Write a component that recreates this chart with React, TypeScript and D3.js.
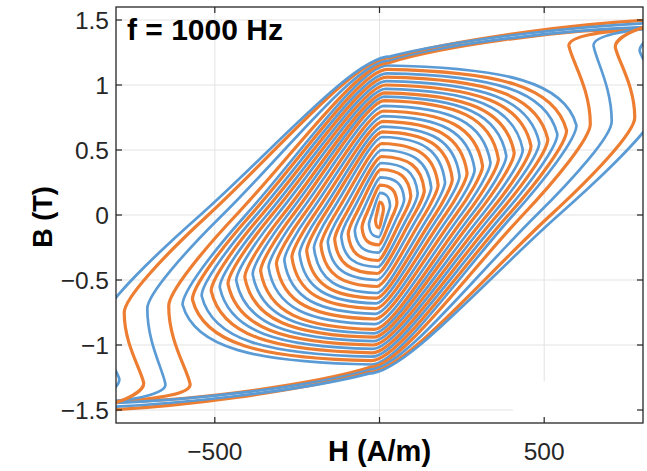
import React from "react";
import * as d3 from "d3";

const W = 647;
const H = 471;

// axes
const hDomain = [-800, 800];
const bDomain = [-1.6, 1.6];
const xTicks = [-500, 0, 500];
const xTickLabels = ["\u2212500", "", "500"];
const yTicks = [-1.5, -1, -0.5, 0, 0.5, 1, 1.5];
const yTickLabels = ["\u22121.5", "\u22121", "\u22120.5", "0", "0.5", "1", "1.5"];

// one entry per loop, innermost to outermost
const loopSeries = [
  "orange", "blue", "orange", "blue", "orange", "blue", "orange", "blue", "orange", "blue",
  "orange", "blue", "orange", "blue", "orange", "blue", "orange", "blue", "orange", "blue",
  "orange", "blue", "orange", "blue", "orange", "blue", "orange", "blue", "orange", "blue",
];
// peak B of each loop near H ~ 0
const cornerB = [
  0.1, 0.17, 0.23, 0.29, 0.35, 0.4, 0.45, 0.5, 0.55, 0.6,
  0.64, 0.68, 0.72, 0.76, 0.8, 0.84, 0.88, 0.91, 0.94, 0.97,
  1.0, 1.03, 1.06, 1.09, 1.12, 1.15, 1.17, 1.19, 1.21, 1.22,
];
// H where the rising branch crosses B = 0
const crossH = [
  9, 24, 41, 57, 73, 89, 104, 120, 136, 152,
  168, 183, 199, 215, 231, 247, 263, 279, 294, 311,
  327, 342, 358, 374, 391, 406, 435, 477, 520, 544,
];
// right "nose" of each loop (largest H) and its B
const noseH = [
  12, 32, 53, 75, 95, 116, 136, 157, 178, 199,
  221, 243, 266, 289, 313, 337, 361, 385, 409, 435,
  460, 485, 511, 540, 568, 598, 640, 705, 775, 850,
];
const noseB = [
  0.042, 0.071, 0.097, 0.122, 0.147, 0.168, 0.189, 0.21, 0.231, 0.252,
  0.275, 0.299, 0.324, 0.35, 0.376, 0.403, 0.431, 0.455, 0.479, 0.504,
  0.53, 0.556, 0.583, 0.621, 0.65, 0.69, 0.7, 0.72, 0.75, 0.85,
];
// saturation hooks of the four outermost loops
const hookLoops = [26, 27, 28, 29];
const hookH = [575, 650, 716, 790];
const hookB = [1.3, 1.3, 1.29, 1.26];
const tipH = [840, 900, 960, 1000];
const tipB = [1.44, 1.45, 1.51, 1.49];

const seriesColor: Record<string, string> = { orange: "#ED7D31", blue: "#5B9BD5" };
const seriesWidth: Record<string, number> = { orange: 3.2, blue: 2.7 };

const L = 116, R = 643, T = 7, Bt = 423;

export default function App() {
  const x = d3.scaleLinear().domain(hDomain).range([L, R]);
  const y = d3.scaleLinear().domain(bDomain).range([Bt, T]);

  type Seg = { c1: number[]; c2: number[]; p: number[] };

  const loopPath = (i: number) => {
    const bk = cornerB[i], hc = crossH[i], hn = noseH[i], bn = noseB[i];
    const m = 0.06 * hc; // bottom point sits slightly left of H = 0
    const start = [-m, -bk];
    const top = [m, bk];
    const half: Seg[] = [];
    // rounded bottom corner into the rising diagonal
    half.push({ c1: [-m + 0.2 * hc, -bk], c2: [0.6 * hc, -0.4 * bk], p: [hc, 0] });
    // diagonal, bending up into the nose
    const t = 0.5 * (hn / hc - 1);
    const c1 = [hc + t * hc, t * bk];
    half.push({ c1, c2: [hn, bn - 0.25 * (bn - c1[1])], p: [hn, bn] });
    const k = hookLoops.indexOf(i);
    if (k < 0) {
      // slanted right side, then the flat top
      half.push({
        c1: [hn - 0.06 * hn, bn + 0.72 * (bk - bn)],
        c2: [m + 0.6 * hn, bk - 0.015 * bk],
        p: top,
      });
    } else {
      const hh = hookH[k], bh = hookB[k], ht = tipH[k], bt = tipB[k];
      half.push({ c1: [hn, bn + 0.45 * (bh - bn)], c2: [hh + 0.15 * (hn - hh), bh - 0.2 * (bh - bn)], p: [hh, bh] });
      half.push({ c1: [hh - 3, bh + 0.07], c2: [hh + 0.3 * (ht - hh), bt - 0.025], p: [ht, bt] });
      half.push({ c1: [0.65 * ht, bt - 0.005], c2: [m + 0.18 * ht, bk + 0.12], p: top });
    }
    const p = d3.path();
    p.moveTo(x(start[0]), y(start[1]));
    const draw = (s: Seg, sg: number) =>
      p.bezierCurveTo(
        x(sg * s.c1[0]), y(sg * s.c1[1]),
        x(sg * s.c2[0]), y(sg * s.c2[1]),
        x(sg * s.p[0]), y(sg * s.p[1])
      );
    half.forEach((s) => draw(s, 1));
    half.forEach((s) => draw(s, -1));
    p.closePath();
    return p.toString();
  };

  const font = "'Liberation Sans', Arial, Helvetica, sans-serif";
  const axisColor = "#262626";

  return (
    <svg width={W} height={H} style={{ position: "absolute", left: 0, top: 0, background: "#fff" }}>
      <defs>
        <clipPath id="plotClip">
          <rect x={L} y={T} width={R - L} height={Bt - T} />
        </clipPath>
      </defs>
      <rect x={0} y={0} width={W} height={H} fill="#fff" />
      {/* grid */}
      {xTicks.map((v) => (
        <line key={"gx" + v} x1={x(v)} x2={x(v)} y1={T} y2={Bt} stroke="#e3e3e3" strokeWidth={1} />
      ))}
      {yTicks.map((v) => (
        <line key={"gy" + v} x1={L} x2={R} y1={y(v)} y2={y(v)} stroke="#e3e3e3" strokeWidth={1} />
      ))}
      <rect x={x(405)} y={y(-1.28)} width={R - x(405) - 1} height={Bt - y(-1.28) - 1} fill="#fff" />
      {/* loops */}
      <g clipPath="url(#plotClip)" fill="none" strokeLinejoin="round">
        {loopSeries.map((s, i) => (
          <path key={i} d={loopPath(i)} stroke={seriesColor[s]} strokeWidth={seriesWidth[s]} />
        ))}
      </g>
      {/* frame */}
      <rect x={L} y={T} width={R - L} height={Bt - T} fill="none" stroke={axisColor} strokeWidth={1.3} />
      {xTicks.map((v) => (
        <g key={"tx" + v}>
          <line x1={x(v)} x2={x(v)} y1={Bt} y2={Bt - 6} stroke={axisColor} strokeWidth={1.2} />
          <line x1={x(v)} x2={x(v)} y1={T} y2={T + 6} stroke={axisColor} strokeWidth={1.2} />
        </g>
      ))}
      {yTicks.map((v) => (
        <g key={"ty" + v}>
          <line x1={L} x2={L + 6} y1={y(v)} y2={y(v)} stroke={axisColor} strokeWidth={1.2} />
          <line x1={R} x2={R - 6} y1={y(v)} y2={y(v)} stroke={axisColor} strokeWidth={1.2} />
        </g>
      ))}
      {/* tick labels */}
      {xTicks.map((v, i) => (
        <text key={"lx" + v} x={x(v)} y={460} textAnchor="middle" fontFamily={font} fontSize={24.5} fill={axisColor}>
          {xTickLabels[i]}
        </text>
      ))}
      {yTicks.map((v, i) => (
        <text key={"ly" + v} x={109} y={y(v)} dy="0.36em" textAnchor="end" fontFamily={font} fontSize={24.5} fill={axisColor}>
          {yTickLabels[i]}
        </text>
      ))}
      {/* axis labels */}
      <text x={x(0)} y={461} textAnchor="middle" fontFamily={font} fontSize={29} fontWeight="bold" fill="#000">
        H (A/m)
      </text>
      <text transform={`translate(52,${y(0) + 2}) rotate(-90)`} textAnchor="middle" fontFamily={font} fontSize={27} fontWeight="bold" fill="#000">
        B (T)
      </text>
      <text x={127} y={40} fontFamily={font} fontSize={30} fontWeight="bold" fill="#000">
        f = 1000 Hz
      </text>
    </svg>
  );
}
